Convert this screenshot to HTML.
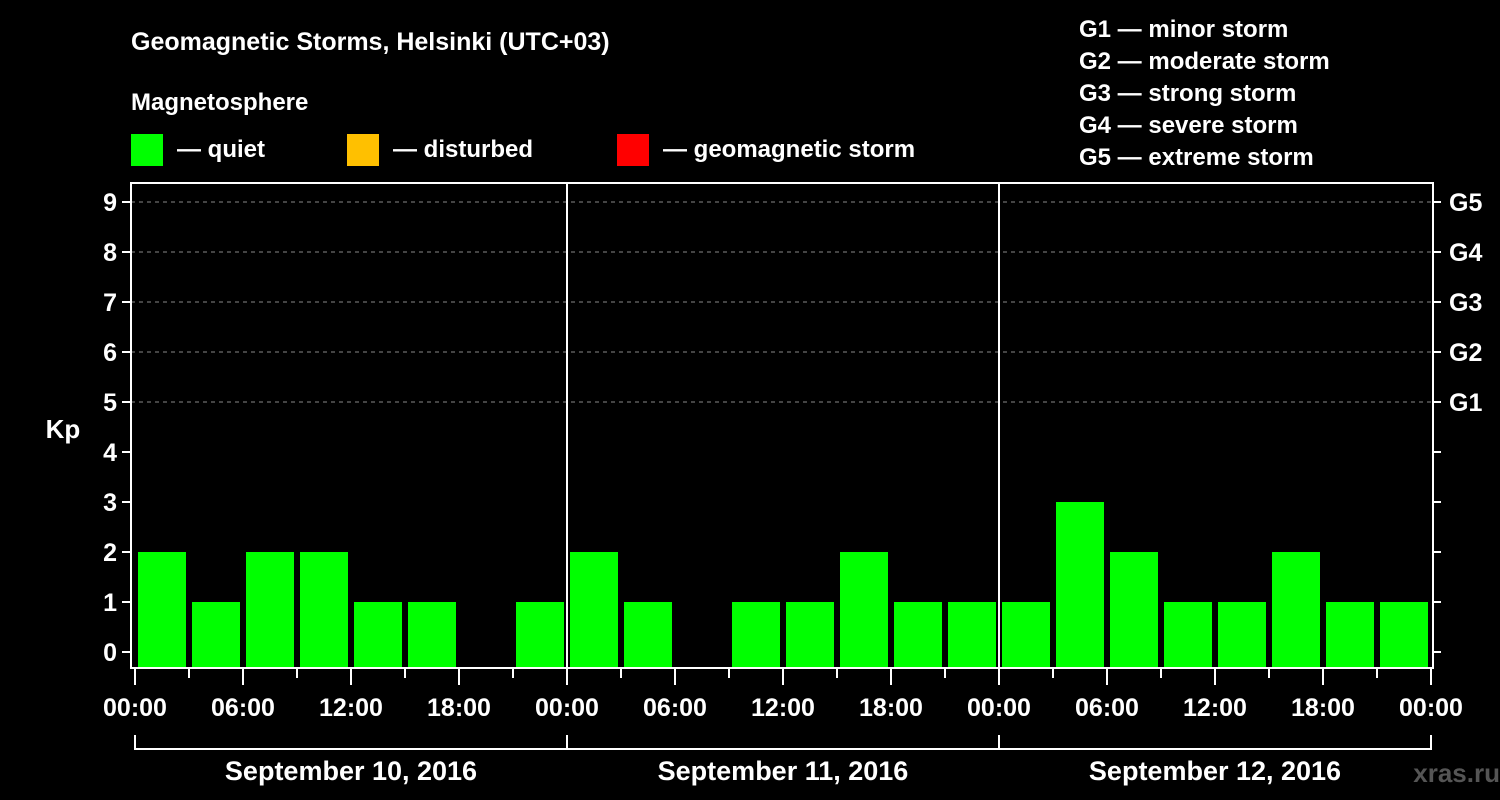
<!DOCTYPE html>
<html><head><meta charset="utf-8"><style>
body{margin:0;background:#000;}
svg{display:block;font-family:"Liberation Sans",Arial,sans-serif;font-weight:bold;}
</style></head><body>
<svg id="c" width="1500" height="800">
<rect width="1500" height="800" fill="#000"/>
<text x="131" y="50" fill="#fff" font-size="25">Geomagnetic Storms, Helsinki (UTC+03)</text>
<text x="131" y="110" fill="#fff" font-size="24">Magnetosphere</text>
<g><rect x="131" y="134" width="32" height="32" fill="#00ff00"/><text x="177" y="157" fill="#fff" font-size="24">— quiet</text></g>
<g><rect x="347" y="134" width="32" height="32" fill="#ffc000"/><text x="393" y="157" fill="#fff" font-size="24">— disturbed</text></g>
<g><rect x="617" y="134" width="32" height="32" fill="#ff0000"/><text x="663" y="157" fill="#fff" font-size="24">— geomagnetic storm</text></g>
<g fill="#fff" font-size="24">
<text x="1079" y="37">G1 — minor storm</text>
<text x="1079" y="69">G2 — moderate storm</text>
<text x="1079" y="101">G3 — strong storm</text>
<text x="1079" y="133">G4 — severe storm</text>
<text x="1079" y="165">G5 — extreme storm</text>
</g>
<text x="63" y="438" fill="#fff" font-size="26" text-anchor="middle">Kp</text>
<g id="grid"></g><g id="bars"></g><g id="axes"></g>
<text x="1500" y="782" fill="#555" font-size="26" text-anchor="end">xras.ru</text>
</svg>
<script>
const days = ["September 10, 2016","September 11, 2016","September 12, 2016"];
const kpValues = [2,1,2,2,1,1,0,1, 2,1,0,1,1,2,1,1, 1,3,2,1,1,2,1,1];
const yTicks = [0,1,2,3,4,5,6,7,8,9];
const gLabels = ["G1","G2","G3","G4","G5"];
const gLevels = [5,6,7,8,9];
const hourLabels = ["00:00","06:00","12:00","18:00"];
const NS="http://www.w3.org/2000/svg";
const L=131,R=1433,T=183,B=668,X0=135,DAYW=432;
const y=v=>652-50*v;
const x=h=>X0+h/24*DAYW; // h hours from start
function mk(tag,a,p){const e=document.createElementNS(NS,tag);for(const k in a)e.setAttribute(k,a[k]);p.appendChild(e);return e;}
const grid=document.getElementById('grid'),bars=document.getElementById('bars'),axes=document.getElementById('axes');
gLevels.forEach((lv,i)=>{
 const ln=mk('line',{x1:L,x2:R,y1:y(lv),y2:y(lv),stroke:'#888','stroke-dasharray':'4,4','stroke-width':1},grid);
 
 
 const t=mk('text',{x:1449,y:y(lv)+9,fill:'#fff','font-size':25},axes);t.textContent=gLabels[i];
 
 
});
kpValues.forEach((v,i)=>{
 if(v<=0)return;
 const r=mk('rect',{x:x(i*3)+3,y:y(v),width:48,height:B-y(v),fill:'#00ff00'},bars);
 
 
});
mk('rect',{x:L,y:T,width:R-L,height:B-T,fill:'none',stroke:'#fff','stroke-width':2},axes);
for(let d=1;d<days.length;d++){mk('line',{x1:x(d*24),x2:x(d*24),y1:T,y2:B,stroke:'#fff','stroke-width':2},axes);}
yTicks.forEach(v=>{
 mk('line',{x1:L-9,x2:L,y1:y(v),y2:y(v),stroke:'#fff','stroke-width':2},axes);
 mk('line',{x1:R,x2:R+8,y1:y(v),y2:y(v),stroke:'#fff','stroke-width':2},axes);
 const t=mk('text',{x:117,y:y(v)+9,fill:'#fff','font-size':25,'text-anchor':'end'},axes);t.textContent=v;
 
 
});
for(let h=0;h<=days.length*24;h+=3){
 const major=h%6===0;
 mk('line',{x1:x(h),x2:x(h),y1:B+1,y2:B+(major?17:10),stroke:'#fff','stroke-width':2},axes);
 if(major){const t=mk('text',{x:x(h),y:716,fill:'#fff','font-size':25,'text-anchor':'middle'},axes);
  t.textContent=hourLabels[(h/6)%4];
  
  }
}
days.forEach((d,i)=>{
 const a=x(i*24),b=x((i+1)*24);
 mk('path',{d:`M${a} 735V749H${b}V735`,fill:'none',stroke:'#fff','stroke-width':2},axes);
 const t=mk('text',{x:(a+b)/2,y:780,fill:'#fff','font-size':27,'text-anchor':'middle'},axes);t.textContent=d;
 
 
});
</script>
</body></html>
